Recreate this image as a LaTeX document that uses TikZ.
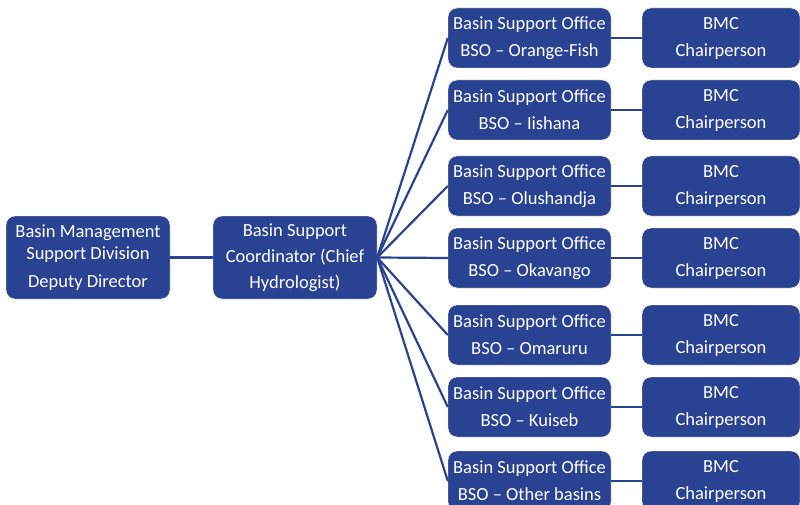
\documentclass[tikz,border=0pt]{standalone}
\usepackage{fontspec}
\setmainfont{Carlito}

\definecolor{bsoblue}{RGB}{41,66,145}

\tikzset{
  unit/.style={draw=white, fill=bsoblue, text=white, rounded corners=9pt,
    align=center, inner sep=0pt, font=\fontsize{18.5}{27}\selectfont},
  office/.style={unit, minimum width=163pt, minimum height=60pt},
  chair/.style={unit, minimum width=158pt, minimum height=60pt},
  link/.style={draw=bsoblue, line width=2.2pt}
}

\begin{document}
\begin{tikzpicture}[x=1pt, y=-1pt]
\useasboundingbox (0,0) rectangle (800,505);

% head of the division and the coordinator
\node[unit, minimum width=164pt, minimum height=83pt,
  font=\fontsize{18.5}{22}\selectfont] (division) at (88,257.5)
  {Basin Management\\Support Division\\[6pt]Deputy Director};
\node[unit, minimum width=164pt, minimum height=83pt,
  font=\fontsize{18.5}{26}\selectfont] (coordinator) at (295,257.5)
  {Basin Support\\Coordinator (Chief\\Hydrologist)};

\draw[link] (division.east) -- (coordinator.west);

% one office and one chairperson per basin
\foreach \y/\basin [count=\i] in {38/Orange-Fish, 110/Iishana, 186/Olushandja,
    258/Okavango, 335/Omaruru, 407/Kuiseb, 481/Other basins} {
  \node[office] (bso\i) at (529.5,\y) {Basin Support Office\\BSO -- \basin};
  \node[chair] (bmc\i) at (721,\y) {BMC\\Chairperson};
  \draw[link] (coordinator.east) -- (bso\i.west);
  \draw[link] (bso\i.east) -- (bmc\i.west);
}

\end{tikzpicture}
\end{document}
